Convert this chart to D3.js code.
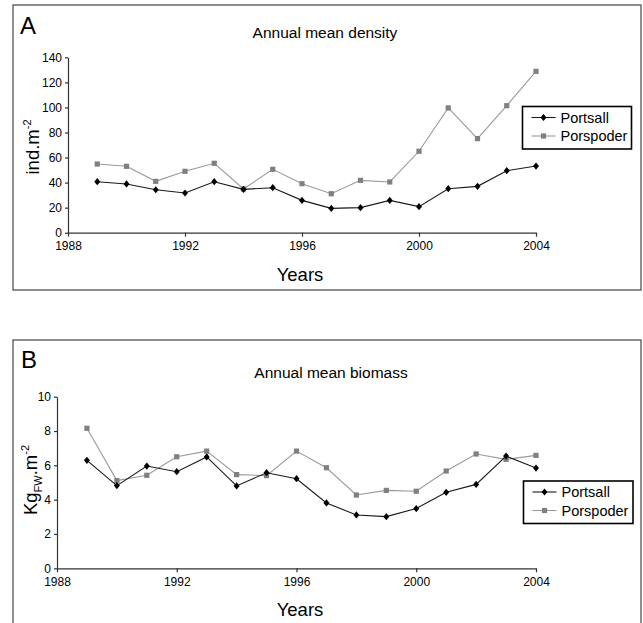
<!DOCTYPE html>
<html><head><meta charset="utf-8">
<script src="https://cdn.jsdelivr.net/npm/d3@7"></script>
<style>body{margin:0;background:#fff}svg{display:block}text{font-family:"Liberation Sans",Arial,sans-serif}</style>
</head><body>
<svg id="chart" width="643" height="623"></svg>
<script>
const years = [1989,1990,1991,1992,1993,1994,1995,1996,1997,1998,1999,2000,2001,2002,2003,2004];
const xTicks = [1988,1992,1996,2000,2004];
const densityPortsall = [40.7,38.9,34.3,31.7,40.7,34.6,35.9,25.8,19.4,20.0,25.8,20.8,35.1,37.0,49.5,53.2];
const densityPorspoder = [54.8,53.0,41.0,49.0,55.4,34.9,50.6,39.1,31.1,41.8,40.5,65.0,99.6,75.1,101.4,128.8];
const densityTicks = [0,20,40,60,80,100,120,140];
const biomassPortsall = [6.29,4.82,5.96,5.63,6.49,4.80,5.57,5.22,3.81,3.11,3.01,3.48,4.43,4.89,6.54,5.84];
const biomassPorspoder = [8.16,5.11,5.42,6.50,6.83,5.46,5.40,6.83,5.86,4.27,4.54,4.49,5.67,6.66,6.35,6.58];
const biomassTicks = [0,2,4,6,8,10];
const seriesNames = ["Portsall","Porspoder"];

const svg = d3.select("#chart");
const colors = {Portsall:{line:"#1a1a1a",mark:"#000"}, Porspoder:{line:"#9a9a9a",mark:"#808080"}};

function marker(g, name, x, y){
  if(name==="Portsall"){
    g.append("path").attr("d",`M${x},${y-3.6}L${x+3},${y}L${x},${y+3.6}L${x-3},${y}Z`).attr("fill",colors[name].mark);
  } else {
    g.append("rect").attr("x",x-2.6).attr("y",y-2.6).attr("width",5.2).attr("height",5.2).attr("fill",colors[name].mark);
  }
}

function panel(cfg){
  const g = svg.append("g");
  g.append("rect").attr("x",cfg.box[0]).attr("y",cfg.box[1]).attr("width",cfg.box[2]).attr("height",cfg.box[3])
    .attr("fill","none").attr("stroke","#444").attr("stroke-width",1.2);
  const x = d3.scaleLinear().domain([1988,2004]).range(cfg.xr);
  const y = d3.scaleLinear().domain(cfg.yd).range(cfg.yr);
  const xa = g.append("g").attr("transform",`translate(0,${cfg.yr[0]})`)
    .call(d3.axisBottom(x).tickValues(xTicks).tickFormat(d3.format("d")).tickSize(4).tickPadding(5).tickSizeOuter(0));
  const ya = g.append("g").attr("transform",`translate(${cfg.xr[0]},0)`)
    .call(d3.axisLeft(y).tickValues(cfg.ticks).tickSize(3).tickPadding(3).tickSizeOuter(0));
  [xa,ya].forEach(a=>{a.selectAll("path,line").attr("stroke","#333").attr("stroke-width",1.2);
    a.selectAll("text").attr("font-size",12).attr("fill","#000").attr("font-family","Liberation Sans, Arial, sans-serif");});
  const series = [[seriesNames[1],cfg.s2],[seriesNames[0],cfg.s1]];
  series.forEach(([name,vals])=>{
    const line = d3.line().x((d,i)=>x(years[i])).y(d=>y(d));
    g.append("path").datum(vals).attr("d",line).attr("fill","none").attr("stroke",colors[name].line).attr("stroke-width",1.1);
    vals.forEach((v,i)=>marker(g,name,x(years[i]),y(v)));
  });
  g.append("text").attr("x",cfg.letter[0]).attr("y",cfg.letter[1]).attr("font-size",24).text(cfg.label);
  g.append("text").attr("x",cfg.title[0]).attr("y",cfg.title[1]).attr("text-anchor","middle").attr("font-size",15.5).text(cfg.titleText);
  g.append("text").attr("x",cfg.years[0]).attr("y",cfg.years[1]).attr("text-anchor","middle").attr("font-size",18.5).text("Years");
  const yl = g.append("text").attr("transform",`translate(${cfg.ylab[0]},${cfg.ylab[1]}) rotate(-90)`).attr("text-anchor","middle").attr("font-size",18.5);
  cfg.ylabFn(yl);
  // legend
  const L = cfg.legend;
  g.append("rect").attr("x",L[0]).attr("y",L[1]).attr("width",L[2]).attr("height",L[3]).attr("fill","#fff").attr("stroke","#000").attr("stroke-width",1.6);
  seriesNames.forEach((name,i)=>{
    const ly = L[1]+11+i*18.5;
    g.append("line").attr("x1",L[0]+9).attr("x2",L[0]+33).attr("y1",ly).attr("y2",ly).attr("stroke",colors[name].line).attr("stroke-width",1.1);
    marker(g,name,L[0]+21,ly);
    g.append("text").attr("x",L[0]+38).attr("y",ly+5.2).attr("font-size",14.5).text(name);
  });
}

panel({box:[13,5,628,285], xr:[68,536], yd:[0,140], yr:[232.7,57.3], ticks:densityTicks,
  s1:densityPortsall, s2:densityPorspoder, letter:[20,34], label:"A", title:[325,38], titleText:"Annual mean density",
  years:[300,281], ylab:[39,147], legend:[522.5,106.5,109,42.5],
  ylabFn:t=>{t.append("tspan").text("ind.m"); t.append("tspan").attr("font-size",11).attr("dy",-8).text("-2");}});

panel({box:[13,340,628,290], xr:[57,536], yd:[0,10], yr:[568.3,396.7], ticks:biomassTicks,
  s1:biomassPortsall, s2:biomassPorspoder, letter:[21,368], label:"B", title:[331,378], titleText:"Annual mean biomass",
  years:[300,616], ylab:[37,480], legend:[523.5,481,109.5,42.5],
  ylabFn:t=>{t.append("tspan").text("Kg"); t.append("tspan").attr("font-size",11).attr("dy",5).text("FW");
    t.append("tspan").attr("dy",-5).text(".m"); t.append("tspan").attr("font-size",11).attr("dy",-8).text("-2");}});
</script>
</body></html>
